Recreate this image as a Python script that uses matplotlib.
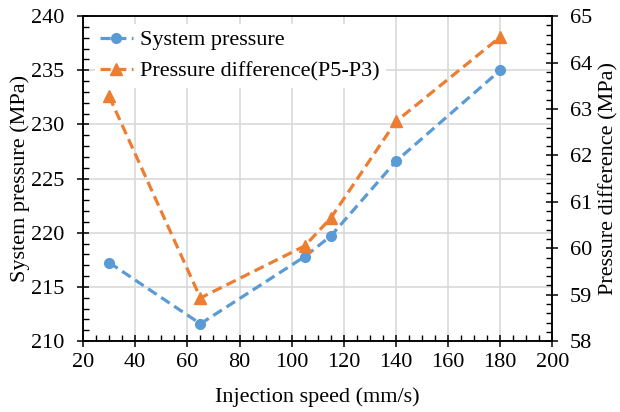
import matplotlib.pyplot as plt
from matplotlib.ticker import MultipleLocator

plt.rcParams['font.family'] = ['Liberation Serif', 'DejaVu Serif']

speed = [30, 65, 105, 115, 140, 180]
system_pressure = [217.25, 211.6, 217.8, 219.7, 226.6, 235.0]
pressure_diff = [63.27, 58.93, 60.05, 60.65, 62.73, 64.55]

blue = '#5B9BD5'
orange = '#ED7D31'
fs = 16

fig = plt.figure(figsize=(6.2, 4.12), dpi=100)
ax = fig.add_axes([0.134, 0.172, 0.757, 0.789])
ax2 = ax.twinx()

dash = (0, (3.2, 1.7))
l1, = ax.plot(speed, system_pressure, color=blue, linestyle=dash, linewidth=2.3,
              marker='o', markersize=7, label='System pressure')
l2, = ax2.plot(speed, pressure_diff, color=orange, linestyle=dash, linewidth=2.3,
               marker='^', markersize=8, label='Pressure difference(P5-P3)')

ax.set_xlim(20, 200)
ax.set_ylim(210, 240)
ax2.set_ylim(58, 65)

ax.xaxis.set_major_locator(MultipleLocator(20))
ax.xaxis.set_minor_locator(MultipleLocator(5))
ax.yaxis.set_major_locator(MultipleLocator(5))
ax.yaxis.set_minor_locator(MultipleLocator(1))
ax2.yaxis.set_major_locator(MultipleLocator(1))
ax2.yaxis.set_minor_locator(MultipleLocator(0.2))

ax.grid(True, which='major', color='#D9D9D9', linewidth=1.2)
ax.set_axisbelow(True)

for a in (ax, ax2):
    a.tick_params(which='major', direction='inout', length=9, width=1.1, labelsize=fs)
    a.tick_params(which='minor', direction='in', length=4.5, width=1.0)
    for s in a.spines.values():
        s.set_linewidth(1.1)
ax.tick_params(axis='x', which='both', top=False, pad=4)
ax.tick_params(axis='y', pad=9)
ax2.tick_params(axis='y', pad=8)

ax.set_xlabel('Injection speed (mm/s)', fontsize=fs, labelpad=11)
ax.set_ylabel('System pressure (MPa)', fontsize=fs, labelpad=1)
ax2.set_ylabel('Pressure difference (MPa)', fontsize=fs, labelpad=5)

leg = ax2.legend([l1, l2], [l1.get_label(), l2.get_label()], loc='upper left',
                 bbox_to_anchor=(0.025, 0.975), borderaxespad=0, borderpad=0.25,
                 fontsize=fs, frameon=True, facecolor='white', edgecolor='none',
                 framealpha=1, fancybox=False, handlelength=1.45, handletextpad=0.35,
                 labelspacing=0.5)

fig.savefig('out.png', dpi=100)
